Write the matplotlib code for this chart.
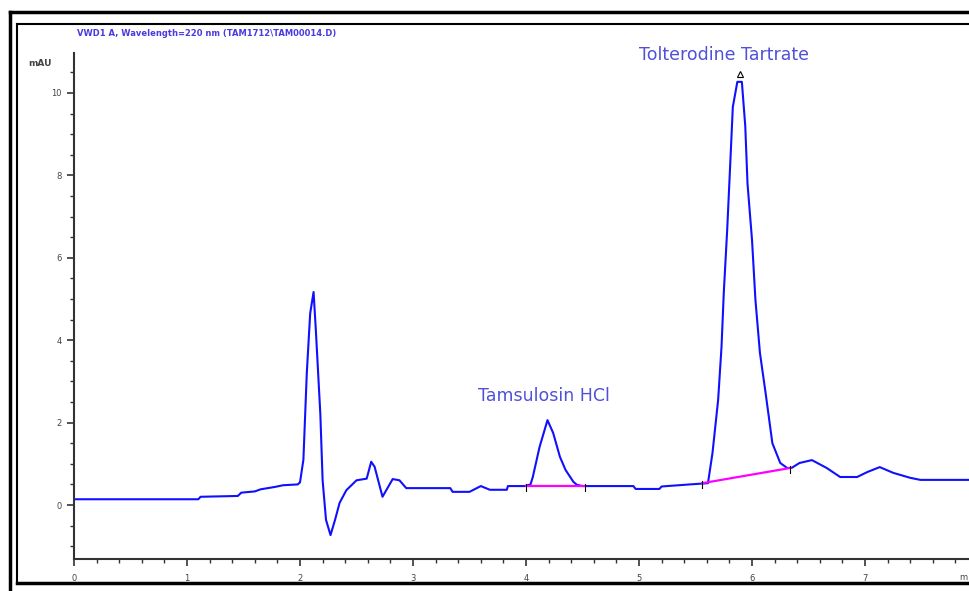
import numpy as np
import matplotlib
matplotlib.use("Agg")
import matplotlib.pyplot as plt
from matplotlib.lines import Line2D

# retention time (min) and detector signal (mAU)
t = [0.00, 1.10, 1.12, 1.45, 1.48, 1.60, 1.65, 1.78, 1.85, 1.98,
     2.00, 2.03, 2.06, 2.09, 2.12, 2.14, 2.18, 2.20, 2.23, 2.27,
     2.31, 2.35, 2.41, 2.50, 2.59, 2.63, 2.66, 2.73, 2.82, 2.88,
     2.94, 3.33, 3.35, 3.50, 3.60, 3.68, 3.83, 3.84, 3.99, 4.04,
     4.06, 4.12, 4.19, 4.24, 4.30, 4.35, 4.42, 4.45, 4.50, 4.95,
     4.97, 5.18, 5.20, 5.45, 5.61, 5.65, 5.70, 5.73, 5.75, 5.78,
     5.81, 5.83, 5.87, 5.91, 5.94, 5.96, 6.00, 6.03, 6.07, 6.12,
     6.18, 6.25, 6.31, 6.35, 6.42, 6.53, 6.66, 6.78, 6.93, 7.02,
     7.13, 7.25, 7.40, 7.49, 7.92]
mau = [0.14, 0.14, 0.20, 0.22, 0.30, 0.33, 0.38, 0.44, 0.48, 0.50,
       0.55, 1.10, 3.20, 4.65, 5.17, 4.25, 2.20, 0.60, -0.36, -0.73,
       -0.36, 0.05, 0.36, 0.60, 0.64, 1.05, 0.93, 0.20, 0.63, 0.60,
       0.41, 0.41, 0.32, 0.32, 0.46, 0.37, 0.37, 0.46, 0.46, 0.50,
       0.68, 1.41, 2.06, 1.75, 1.17, 0.85, 0.56, 0.49, 0.46, 0.46,
       0.39, 0.39, 0.45, 0.50, 0.53, 1.26, 2.55, 3.84, 5.15, 6.67,
       8.45, 9.66, 10.27, 10.27, 9.20, 7.80, 6.43, 4.98, 3.69, 2.72,
       1.50, 1.02, 0.90, 0.90, 1.02, 1.09, 0.90, 0.68, 0.68, 0.80,
       0.92, 0.78, 0.66, 0.61, 0.61]

# integration baselines (start/end time, start/end signal)
base_t = [[4.00, 4.52], [5.56, 6.34]]
base_y = [[0.46, 0.46], [0.53, 0.90]]

peak_names = ["Tamsulosin HCl", "Tolterodine Tartrate"]
peak_rt = [4.19, 5.89]
peak_h = [2.06, 10.27]

fig = plt.figure(figsize=(9.69, 5.91), dpi=100)

# report frame lines
W, H = 969, 591
def fline(x0, y0, x1, y1, lw):
    fig.add_artist(Line2D([x0 / W, x1 / W], [1 - y0 / H, 1 - y1 / H],
                          color="black", lw=lw, transform=fig.transFigure))
fline(10, 12, 10, 591, 2.5)
fline(10, 12, 969, 12, 2.5)
fline(17, 24, 17, 583, 1.5)
fline(17, 24, 969, 24, 1.5)
fline(17, 583, 969, 583, 2.5)

ax = fig.add_axes([74 / W, 1 - 559 / H, (W - 74) / W, (559 - 53) / H])
ax.plot(t, mau, color="#1010ff", lw=1.5)
for bt, by in zip(base_t, base_y):
    ax.plot(bt, by, color="#ff00ff", lw=1.6)
    for xx, yy in zip(bt, by):
        ax.plot([xx, xx], [yy - 0.12, yy + 0.05], color="black", lw=0.8)

ax.plot(peak_rt[1], peak_h[1] + 0.2, marker="^", ms=4, mfc="none",
        mec="black", mew=0.8)

ax.set_xlim(0, 7.92)
ax.set_ylim(-1.31, 10.97)
ax.set_xticks(range(8))
ax.set_xticks(np.arange(0, 7.9, 0.2), minor=True)
ax.set_yticks(range(0, 11, 2))
ax.set_yticks(np.arange(-1, 11, 0.5), minor=True)
for s in ["top", "right"]:
    ax.spines[s].set_visible(False)
for s in ["left", "bottom"]:
    ax.spines[s].set_color("#333333")
    ax.spines[s].set_linewidth(1.5)
ax.tick_params(axis="both", which="major", length=5, width=1.2,
               color="#333333", labelsize=6, labelcolor="#444444")
ax.tick_params(axis="both", which="minor", length=3, width=1.0,
               color="#333333")
ax.tick_params(axis="x", pad=6)
ax.tick_params(axis="y", pad=4)
ax.set_facecolor("white")

fig.text(963 / W, 1 - 577 / H, "m", fontsize=6, color="#444444",
         ha="center", va="center")
fig.text(40 / W, 1 - 63 / H, "mAU", fontsize=6.5, color="#444444",
         ha="center", va="center", fontweight="bold")
fig.text(207 / W, 1 - 34 / H,
         "VWD1 A, Wavelength=220 nm (TAM1712\\TAM00014.D)",
         fontsize=6, color="#4a3ae0", ha="center", va="center",
         fontweight="bold")

fig.text(544 / W, 1 - 396 / H, peak_names[0], fontsize=12.5,
         color="#5050d8", ha="center", va="center")
fig.text(724 / W, 1 - 55 / H, peak_names[1], fontsize=12.5,
         color="#5050d8", ha="center", va="center")

fig.savefig("out.png", dpi=100)
